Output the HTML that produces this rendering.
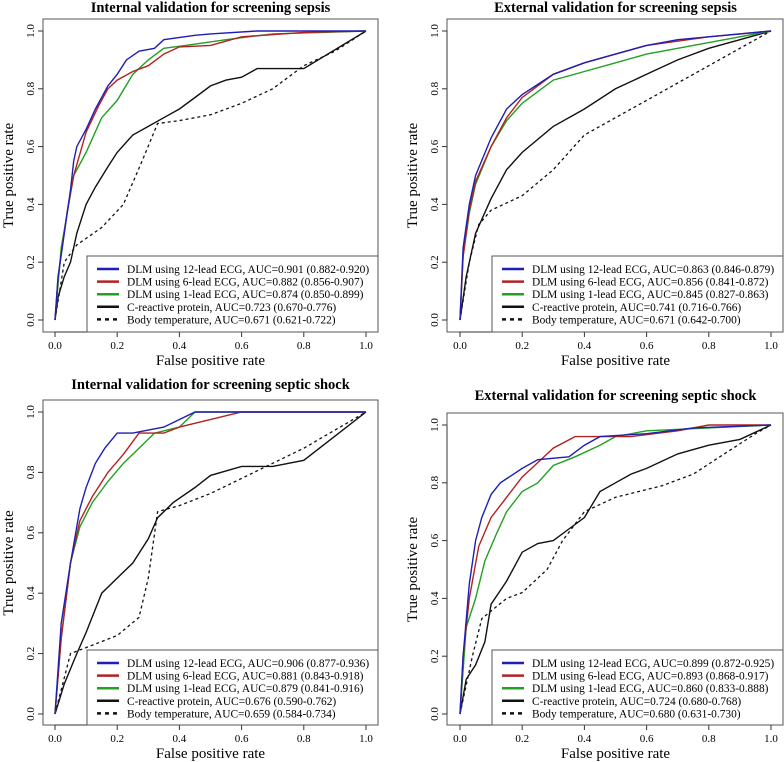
<!DOCTYPE html>
<html><head><meta charset="utf-8"><style>
body{margin:0;background:#fff}
svg{display:block;font-family:"Liberation Serif",serif}
</style></head><body>
<svg id="c" width="784" height="762"></svg>
<script>
const titles=["Internal validation for screening sepsis","External validation for screening sepsis","Internal validation for screening septic shock","External validation for screening septic shock"];
const seriesNames=["DLM using 12-lead ECG","DLM using 6-lead ECG","DLM using 1-lead ECG","C-reactive protein","Body temperature"];
const aucLabels=[
["AUC=0.901 (0.882-0.920)","AUC=0.882 (0.856-0.907)","AUC=0.874 (0.850-0.899)","AUC=0.723 (0.670-0.776)","AUC=0.671 (0.621-0.722)"],
["AUC=0.863 (0.846-0.879)","AUC=0.856 (0.841-0.872)","AUC=0.845 (0.827-0.863)","AUC=0.741 (0.716-0.766)","AUC=0.671 (0.642-0.700)"],
["AUC=0.906 (0.877-0.936)","AUC=0.881 (0.843-0.918)","AUC=0.879 (0.841-0.916)","AUC=0.676 (0.590-0.762)","AUC=0.659 (0.584-0.734)"],
["AUC=0.899 (0.872-0.925)","AUC=0.893 (0.868-0.917)","AUC=0.860 (0.833-0.888)","AUC=0.724 (0.680-0.768)","AUC=0.680 (0.631-0.730)"]];
const ticks=[0,0.2,0.4,0.6,0.8,1.0];
// panel 1
const p1Blue=[[0,0],[0.01,0.15],[0.03,0.3],[0.05,0.45],[0.06,0.55],[0.07,0.6],[0.1,0.66],[0.13,0.73],[0.17,0.81],[0.2,0.85],[0.23,0.9],[0.27,0.93],[0.32,0.94],[0.35,0.97],[0.45,0.985],[0.5,0.99],[0.65,1],[1,1]];
const p1Red=[[0,0],[0.01,0.15],[0.04,0.38],[0.06,0.5],[0.1,0.65],[0.14,0.74],[0.17,0.8],[0.2,0.83],[0.25,0.86],[0.3,0.88],[0.35,0.92],[0.4,0.945],[0.5,0.95],[0.6,0.98],[0.8,0.995],[1,1]];
const p1Green=[[0,0],[0.02,0.25],[0.06,0.5],[0.1,0.58],[0.15,0.7],[0.2,0.76],[0.25,0.85],[0.3,0.9],[0.35,0.94],[0.42,0.95],[0.55,0.97],[0.7,0.99],[1,1]];
const p1Crp=[[0,0],[0.01,0.08],[0.03,0.15],[0.05,0.2],[0.07,0.3],[0.1,0.4],[0.13,0.46],[0.17,0.53],[0.2,0.58],[0.25,0.64],[0.3,0.67],[0.35,0.7],[0.4,0.73],[0.45,0.77],[0.5,0.81],[0.55,0.83],[0.6,0.84],[0.65,0.87],[0.8,0.87],[1,1]];
const p1Temp=[[0,0],[0.03,0.2],[0.07,0.26],[0.15,0.32],[0.22,0.4],[0.28,0.55],[0.33,0.68],[0.4,0.69],[0.5,0.71],[0.6,0.75],[0.7,0.8],[0.8,0.88],[0.9,0.93],[1,1]];
// panel 2
const p2Blue=[[0,0],[0.01,0.25],[0.03,0.4],[0.05,0.5],[0.1,0.63],[0.15,0.73],[0.2,0.78],[0.3,0.85],[0.4,0.89],[0.5,0.92],[0.6,0.95],[0.7,0.97],[0.8,0.98],[0.9,0.99],[1,1]];
const p2Red=[[0,0],[0.01,0.22],[0.03,0.38],[0.05,0.48],[0.1,0.6],[0.15,0.7],[0.2,0.77],[0.3,0.85],[0.4,0.89],[0.5,0.92],[0.6,0.95],[0.8,0.98],[1,1]];
const p2Green=[[0,0],[0.01,0.22],[0.03,0.37],[0.05,0.47],[0.1,0.6],[0.15,0.69],[0.2,0.75],[0.3,0.83],[0.4,0.86],[0.5,0.89],[0.6,0.92],[0.7,0.94],[0.8,0.96],[0.9,0.98],[1,1]];
const p2Crp=[[0,0],[0.02,0.15],[0.05,0.3],[0.1,0.42],[0.15,0.52],[0.2,0.58],[0.3,0.67],[0.4,0.73],[0.5,0.8],[0.6,0.85],[0.7,0.9],[0.8,0.94],[0.9,0.97],[1,1]];
const p2Temp=[[0,0],[0.03,0.2],[0.06,0.33],[0.1,0.38],[0.2,0.43],[0.3,0.52],[0.4,0.64],[0.5,0.7],[0.6,0.76],[0.7,0.82],[0.8,0.88],[0.9,0.94],[1,1]];
// panel 3
const p3Blue=[[0,0],[0.02,0.3],[0.05,0.5],[0.08,0.68],[0.1,0.75],[0.13,0.83],[0.16,0.88],[0.2,0.93],[0.25,0.93],[0.35,0.95],[0.45,1],[1,1]];
const p3Red=[[0,0],[0.02,0.25],[0.05,0.5],[0.08,0.64],[0.12,0.72],[0.17,0.8],[0.22,0.86],[0.27,0.93],[0.35,0.93],[0.4,0.95],[0.6,1],[1,1]];
const p3Green=[[0,0],[0.02,0.25],[0.05,0.5],[0.08,0.62],[0.12,0.7],[0.17,0.77],[0.22,0.83],[0.27,0.88],[0.32,0.93],[0.4,0.95],[0.45,1],[1,1]];
const p3Crp=[[0,0],[0.03,0.1],[0.07,0.2],[0.1,0.27],[0.15,0.4],[0.2,0.45],[0.25,0.5],[0.3,0.58],[0.33,0.65],[0.38,0.7],[0.45,0.75],[0.5,0.79],[0.6,0.82],[0.7,0.82],[0.8,0.84],[0.9,0.92],[1,1]];
const p3Temp=[[0,0],[0.05,0.2],[0.1,0.22],[0.2,0.26],[0.27,0.32],[0.3,0.45],[0.33,0.67],[0.4,0.69],[0.5,0.73],[0.6,0.78],[0.7,0.83],[0.8,0.88],[0.9,0.94],[1,1]];
// panel 4
const p4Blue=[[0,0],[0.01,0.2],[0.03,0.45],[0.05,0.6],[0.07,0.68],[0.1,0.76],[0.13,0.8],[0.2,0.85],[0.25,0.88],[0.35,0.89],[0.4,0.93],[0.45,0.96],[0.6,0.97],[0.75,0.99],[1,1]];
const p4Red=[[0,0],[0.01,0.2],[0.03,0.4],[0.06,0.58],[0.1,0.68],[0.15,0.75],[0.2,0.82],[0.25,0.87],[0.3,0.92],[0.37,0.96],[0.55,0.96],[0.7,0.98],[0.8,1],[1,1]];
const p4Green=[[0,0],[0.02,0.3],[0.05,0.4],[0.08,0.53],[0.12,0.63],[0.15,0.7],[0.2,0.77],[0.25,0.8],[0.3,0.86],[0.37,0.89],[0.45,0.93],[0.5,0.96],[0.6,0.98],[0.8,0.99],[1,1]];
const p4Crp=[[0,0],[0.02,0.12],[0.05,0.17],[0.08,0.25],[0.1,0.38],[0.15,0.46],[0.2,0.56],[0.25,0.59],[0.3,0.6],[0.35,0.64],[0.4,0.68],[0.45,0.77],[0.5,0.8],[0.55,0.83],[0.6,0.85],[0.7,0.9],[0.8,0.93],[0.9,0.95],[1,1]];
const p4Temp=[[0,0],[0.04,0.2],[0.07,0.33],[0.15,0.4],[0.2,0.42],[0.28,0.5],[0.33,0.6],[0.4,0.7],[0.5,0.75],[0.65,0.79],[0.75,0.83],[0.85,0.9],[0.95,0.97],[1,1]];

const panelData=[[p1Blue,p1Red,p1Green,p1Crp,p1Temp],[p2Blue,p2Red,p2Green,p2Crp,p2Temp],[p3Blue,p3Red,p3Green,p3Crp,p3Temp],[p4Blue,p4Red,p4Green,p4Crp,p4Temp]];
const colors=["#1f1fb4","#b22222","#22a022","#111","#111"];
const layouts=[
 {bx:43,by:19,bw:335,bh:313,x0:55,x1:366,y0:320,y1:31,lx:87,ly:256,ty:12},
 {bx:447,by:19,bw:336,bh:313,x0:460,x1:771,y0:320,y1:31,lx:492,ly:256,ty:12},
 {bx:43,by:400,bw:335,bh:325,x0:55,x1:366,y0:714,y1:412,lx:87,ly:650,ty:389},
 {bx:447,by:413,bw:336,bh:312,x0:460,x1:771,y0:714,y1:425,lx:492,ly:650,ty:400}];
const NS="http://www.w3.org/2000/svg";
const svg=document.getElementById('c');
function mk(t,a,p){const e=document.createElementNS(NS,t);for(const k in a)e.setAttribute(k,a[k]);(p||svg).appendChild(e);return e;}
layouts.forEach((L,pi)=>{
 const g=mk('g',{});
 
 
 const sx=v=>L.x0+v*(L.x1-L.x0), sy=v=>L.y0+v*(L.y1-L.y0);
 const t=mk('text',{x:(L.x0+L.x1)/2,y:L.ty,'text-anchor':'middle','font-size':'14.5','font-weight':'bold'},g);t.textContent=titles[pi];
 
 
 const box=mk('rect',{x:L.bx,y:L.by,width:L.bw,height:L.bh,fill:'none',stroke:'#555','stroke-width':1},g);
 
 
 const ab=L.by+L.bh;
 mk('line',{x1:sx(0),x2:sx(1),y1:ab,y2:ab,stroke:'#333'},g);
 mk('line',{x1:L.bx,x2:L.bx,y1:sy(0),y2:sy(1),stroke:'#333'},g);
 ticks.forEach(v=>{
  mk('line',{x1:sx(v),x2:sx(v),y1:ab,y2:ab+5,stroke:'#333'},g);
  const tx=mk('text',{x:sx(v),y:ab+17,'text-anchor':'middle','font-size':'11'},g);tx.textContent=v.toFixed(1);
  
  
  mk('line',{x1:L.bx-5,x2:L.bx,y1:sy(v),y2:sy(v),stroke:'#333'},g);
  const ty=mk('text',{x:0,y:0,'text-anchor':'middle','font-size':'11',transform:`translate(${L.bx-9},${sy(v)}) rotate(-90)`},g);ty.textContent=v.toFixed(1);
  
  
 });
 const xt=mk('text',{x:(L.x0+L.x1)/2,y:ab+33,'text-anchor':'middle','font-size':'15'},g);xt.textContent='False positive rate';
 
 
 const yt=mk('text',{x:0,y:0,'text-anchor':'middle','font-size':'15',transform:`translate(${L.bx-30},${(sy(0)+sy(1))/2}) rotate(-90)`},g);yt.textContent='True positive rate';
 
 
 for(let s=4;s>=0;s--){
  const pts=panelData[pi][s].map(p=>sx(p[0]).toFixed(1)+','+sy(p[1]).toFixed(1)).join(' ');
  const pl=mk('polyline',{points:pts,fill:'none',stroke:colors[s],'stroke-width':s==4?1.3:1.4,'stroke-dasharray':s==4?'3,3':'none'},g);
  
  
 }
 const lg=mk('g',{},g);
 
 
 mk('rect',{x:L.lx,y:L.ly,width:L.bx+L.bw-L.lx,height:ab-L.ly,fill:'#fff',stroke:'#555'},lg);
 for(let s=0;s<5;s++){
  const yy=L.ly+13+s*12.6;
  mk('line',{x1:L.lx+10,x2:L.lx+32,y1:yy,y2:yy,stroke:colors[s],'stroke-width':2.5,'stroke-dasharray':s==4?'4,4':'none'},lg);
  const e=mk('text',{x:L.lx+40,y:yy+4,'font-size':'11.4'},lg);e.textContent=seriesNames[s]+', '+aucLabels[pi][s];
  
  
 }
});
</script>
</body></html>
